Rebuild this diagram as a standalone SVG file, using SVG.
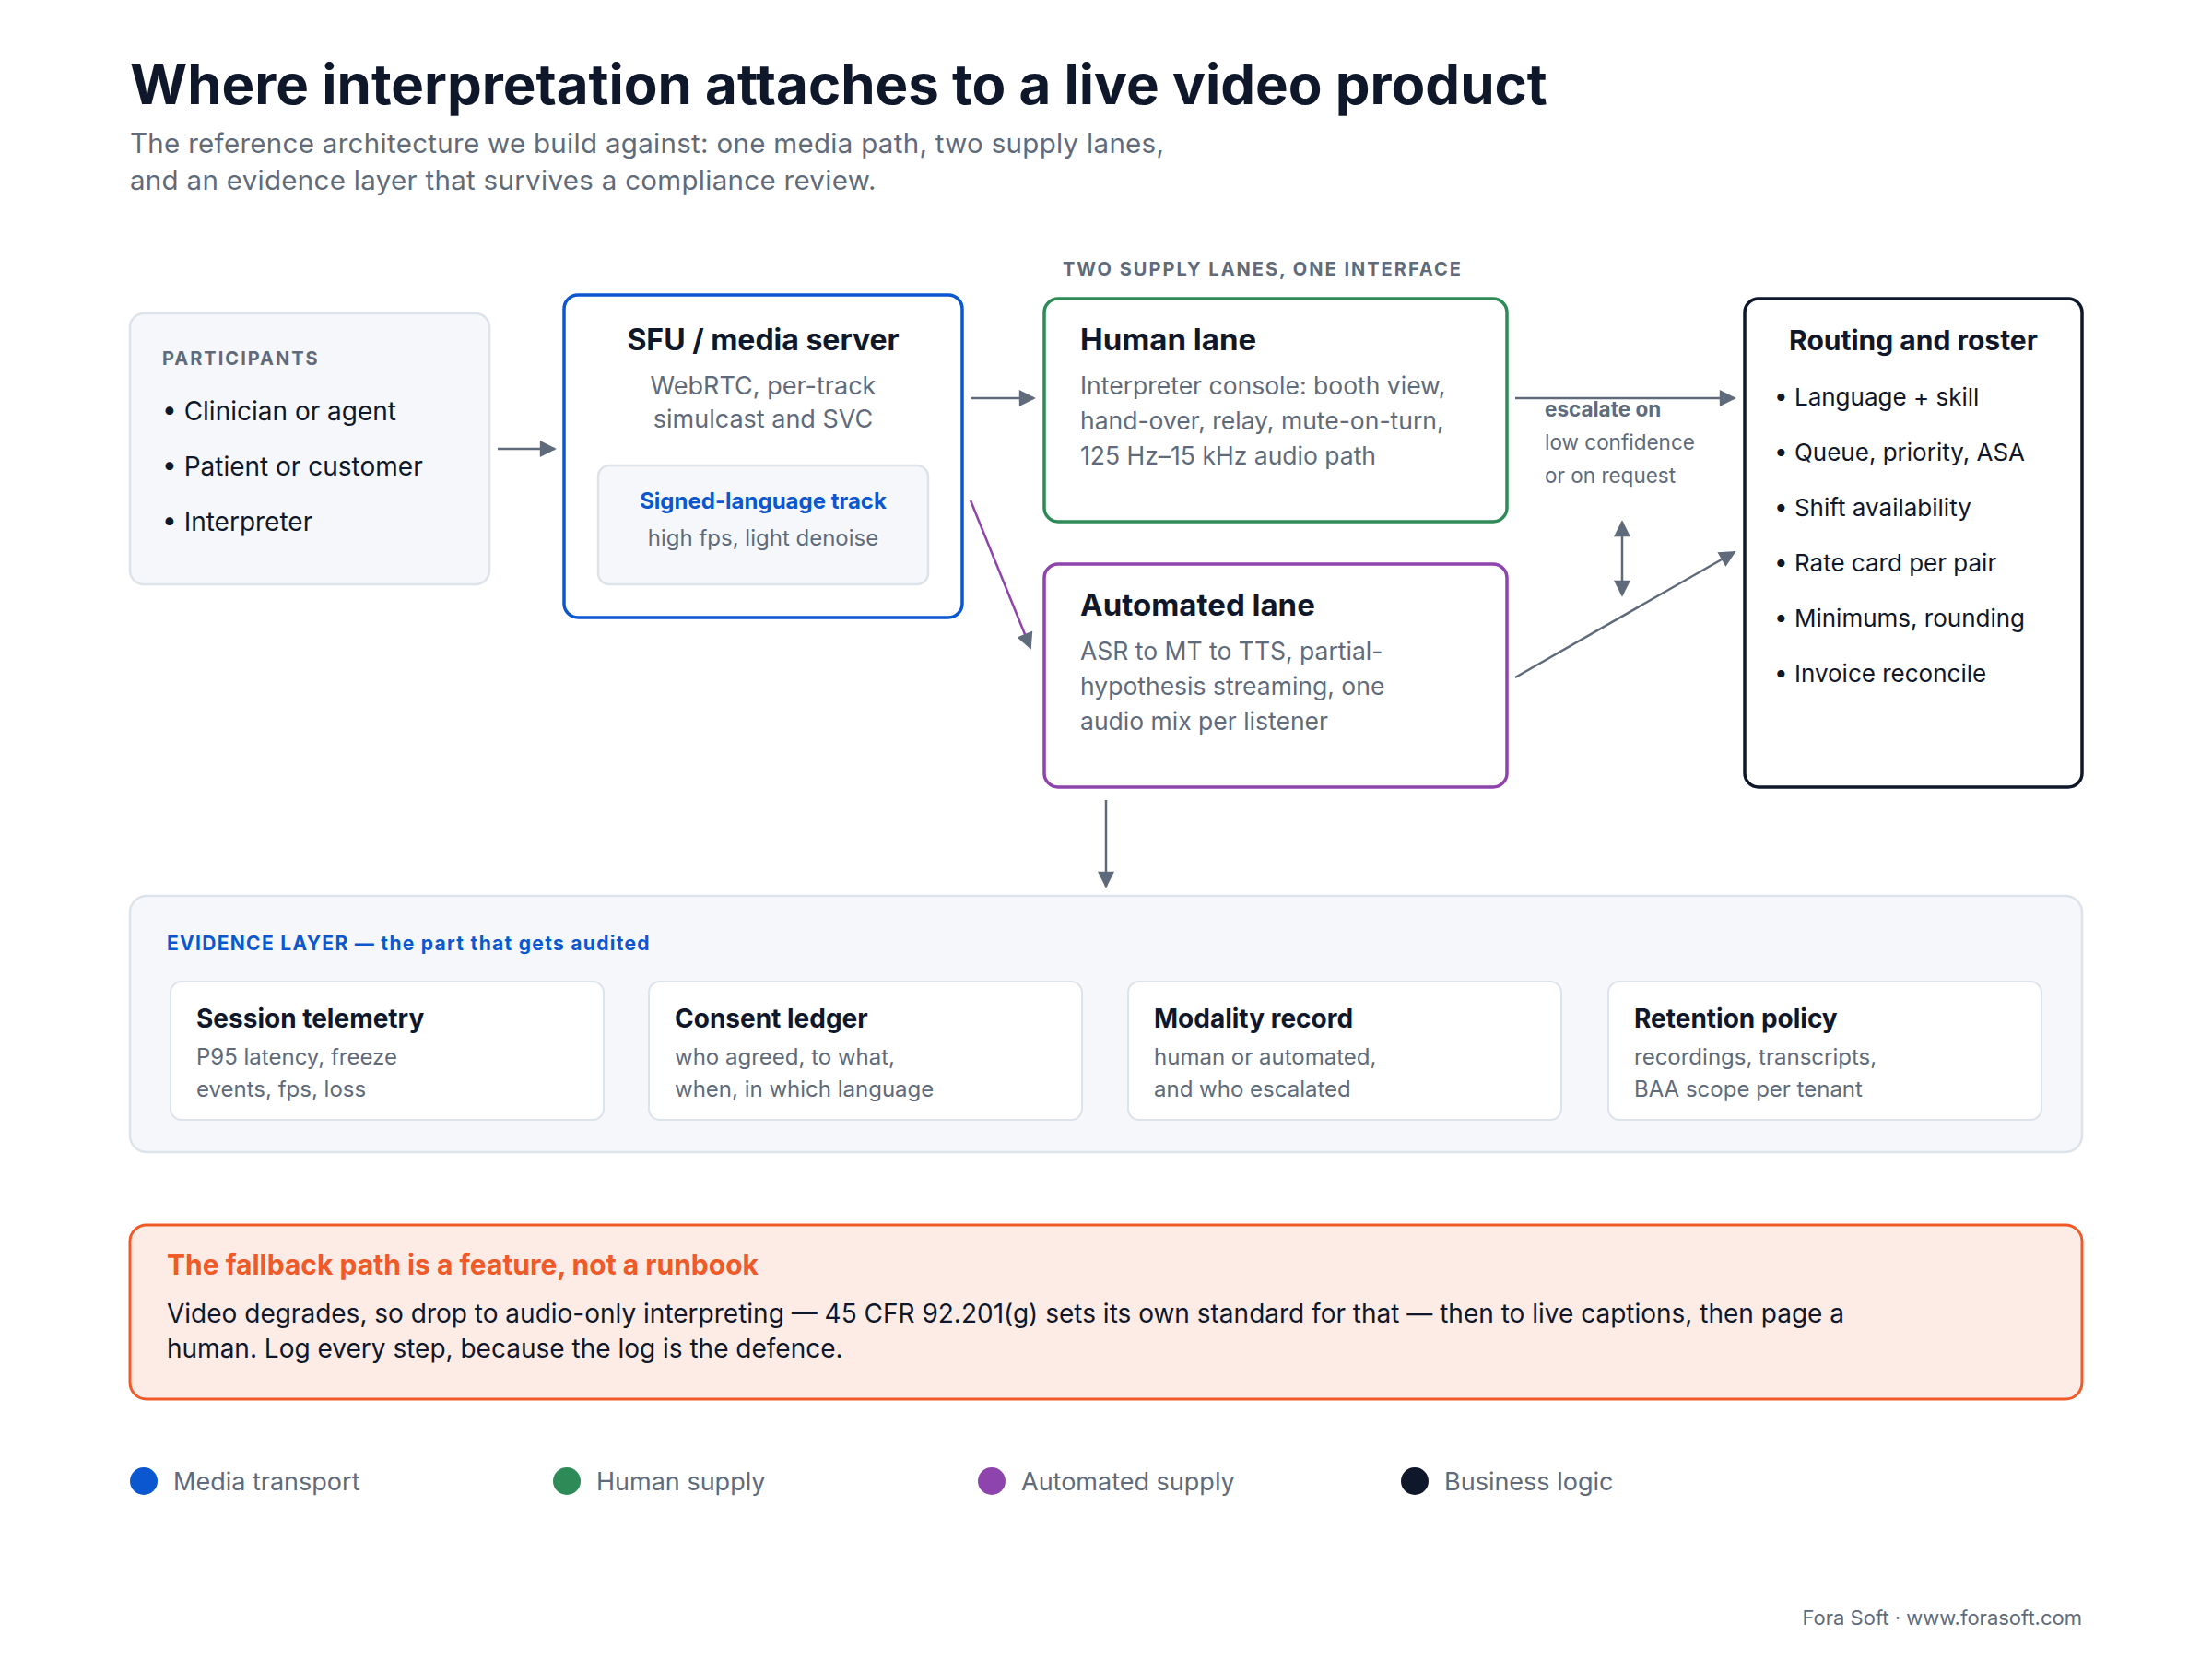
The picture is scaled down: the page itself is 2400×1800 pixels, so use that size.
<svg xmlns="http://www.w3.org/2000/svg" width="2400" height="1800" viewBox="0 0 2400 1800">
<style>
text{font-family:Inter,"Noto Sans","Liberation Sans",sans-serif}
.h{font-weight:700;fill:#0f172a}
.g{fill:#5f6b7a}
.b{fill:#0f172a}
.cap{font-size:20px;font-weight:700;letter-spacing:2px;fill:#5f6b7a}
.soft{fill:#f5f7fa;stroke:#dde3ea;stroke-width:2.5}
.card{fill:#fff;stroke:#dde3ea;stroke-width:2}
.ar{stroke:#5f6b7a;stroke-width:2.5;fill:none}
</style>
<defs>
<marker id="m" viewBox="0 0 10 10" refX="9" refY="5" markerWidth="22" markerHeight="18" markerUnits="userSpaceOnUse" orient="auto-start-reverse"><path d="M0,0L10,5L0,10z" fill="#5f6b7a"/></marker>
</defs>
<rect width="2400" height="1800" fill="#fff"/>
<g id="title">
<text x="141" y="113" font-size="60" class="h">Where interpretation attaches to a live video product</text>
<text x="141" y="166" font-size="29.5" class="g" letter-spacing="0.3">The reference architecture we build against: one media path, two supply lanes,</text>
<text x="141" y="206" font-size="29.5" class="g" letter-spacing="0.3">and an evidence layer that survives a compliance review.</text>
</g>
<g id="participants">
<rect x="141" y="340" width="390" height="294" rx="15" class="soft"/>
<text x="176" y="396" class="cap">PARTICIPANTS</text>
<text x="176" y="456" font-size="28" class="b">• Clinician or agent</text>
<text x="176" y="516" font-size="28" class="b">• Patient or customer</text>
<text x="176" y="576" font-size="28" class="b">• Interpreter</text>
</g>
<g id="sfu">
<rect x="612" y="320" width="432" height="350" rx="15" fill="#fff" stroke="#0b57d0" stroke-width="3.5"/>
<text x="828" y="380" font-size="32" class="h" text-anchor="middle">SFU / media server</text>
<text x="828" y="428" font-size="27" class="g" text-anchor="middle">WebRTC, per-track</text>
<text x="828" y="464" font-size="27" class="g" text-anchor="middle">simulcast and SVC</text>
<rect x="649" y="505" width="358" height="129" rx="12" class="soft"/>
<text x="828" y="552" font-size="24" font-weight="700" fill="#0b57d0" text-anchor="middle">Signed-language track</text>
<text x="828" y="592" font-size="24" class="g" text-anchor="middle">high fps, light denoise</text>
</g>
<text x="1153" y="299" class="cap">TWO SUPPLY LANES, ONE INTERFACE</text>
<g id="human">
<rect x="1133" y="324" width="502" height="242" rx="15" fill="#fff" stroke="#2e8b57" stroke-width="3.5"/>
<text x="1172" y="380" font-size="33" class="h">Human lane</text>
<text x="1172" y="428" font-size="26.5" class="g">Interpreter console: booth view,</text>
<text x="1172" y="466" font-size="26.5" class="g">hand-over, relay, mute-on-turn,</text>
<text x="1172" y="504" font-size="26.5" class="g">125 Hz–15 kHz audio path</text>
</g>
<g id="automated">
<rect x="1133" y="612" width="502" height="242" rx="15" fill="#fff" stroke="#8e44ad" stroke-width="3.5"/>
<text x="1172" y="668" font-size="33" class="h">Automated lane</text>
<text x="1172" y="716" font-size="26.5" class="g">ASR to MT to TTS, partial-</text>
<text x="1172" y="754" font-size="26.5" class="g">hypothesis streaming, one</text>
<text x="1172" y="792" font-size="26.5" class="g">audio mix per listener</text>
</g>
<g id="routing">
<rect x="1893" y="324" width="366" height="530" rx="15" fill="#fff" stroke="#0f172a" stroke-width="3.5"/>
<text x="2076" y="380" font-size="30" class="h" text-anchor="middle">Routing and roster</text>
<text x="1925" y="440" font-size="26" class="b">• Language + skill</text>
<text x="1925" y="500" font-size="26" class="b">• Queue, priority, ASA</text>
<text x="1925" y="560" font-size="26" class="b">• Shift availability</text>
<text x="1925" y="620" font-size="26" class="b">• Rate card per pair</text>
<text x="1925" y="680" font-size="26" class="b">• Minimums, rounding</text>
<text x="1925" y="740" font-size="26" class="b">• Invoice reconcile</text>
</g>
<g id="connectors">
<line x1="540" y1="487" x2="602" y2="487" class="ar" marker-end="url(#m)"/>
<line x1="1053" y1="432" x2="1122" y2="432" class="ar" marker-end="url(#m)"/>
<line x1="1053" y1="543" x2="1118" y2="703" stroke="#8e44ad" stroke-width="2.5" marker-end="url(#m)"/>
<line x1="1644" y1="432" x2="1882" y2="432" class="ar" marker-end="url(#m)"/>
<line x1="1760" y1="566" x2="1760" y2="646" class="ar" marker-start="url(#m)" marker-end="url(#m)"/>
<line x1="1644" y1="735" x2="1882" y2="599" class="ar" marker-end="url(#m)"/>
<line x1="1200" y1="868" x2="1200" y2="962" class="ar" marker-end="url(#m)"/>
<text x="1676" y="452" font-size="22.5" font-weight="700" fill="#5f6b7a">escalate on</text>
<text x="1676" y="488" font-size="22.5" class="g">low confidence</text>
<text x="1676" y="524" font-size="22.5" class="g">or on request</text>
</g>
<g id="evidence">
<rect x="141" y="972" width="2118" height="278" rx="18" class="soft"/>
<text x="181" y="1031" font-size="21" font-weight="700" fill="#0b57d0" letter-spacing="1.3">EVIDENCE LAYER — the part that gets audited</text>
<rect x="185" y="1065" width="470" height="150" rx="12" class="card"/>
<text x="213" y="1115" font-size="28" class="h">Session telemetry</text>
<text x="213" y="1155" font-size="24" class="g">P95 latency, freeze</text>
<text x="213" y="1190" font-size="24" class="g">events, fps, loss</text>
<rect x="704" y="1065" width="470" height="150" rx="12" class="card"/>
<text x="732" y="1115" font-size="28" class="h">Consent ledger</text>
<text x="732" y="1155" font-size="24" class="g">who agreed, to what,</text>
<text x="732" y="1190" font-size="24" class="g">when, in which language</text>
<rect x="1224" y="1065" width="470" height="150" rx="12" class="card"/>
<text x="1252" y="1115" font-size="28" class="h">Modality record</text>
<text x="1252" y="1155" font-size="24" class="g">human or automated,</text>
<text x="1252" y="1190" font-size="24" class="g">and who escalated</text>
<rect x="1745" y="1065" width="470" height="150" rx="12" class="card"/>
<text x="1773" y="1115" font-size="28" class="h">Retention policy</text>
<text x="1773" y="1155" font-size="24" class="g">recordings, transcripts,</text>
<text x="1773" y="1190" font-size="24" class="g">BAA scope per tenant</text>
</g>
<g id="fallback">
<rect x="141" y="1329" width="2118" height="189" rx="18" fill="#fdece6" stroke="#f05a28" stroke-width="3"/>
<text x="181" y="1383" font-size="30" font-weight="700" fill="#f05a28">The fallback path is a feature, not a runbook</text>
<text x="181" y="1435" font-size="28" class="b">Video degrades, so drop to audio-only interpreting — 45 CFR 92.201(g) sets its own standard for that — then to live captions, then page a</text>
<text x="181" y="1473" font-size="28" class="b">human. Log every step, because the log is the defence.</text>
</g>
<g id="legend">
<circle cx="156" cy="1607" r="15" fill="#0b57d0"/><text x="188" y="1617" font-size="27" class="g">Media transport</text>
<circle cx="615" cy="1607" r="15" fill="#2e8b57"/><text x="647" y="1617" font-size="27" class="g">Human supply</text>
<circle cx="1076" cy="1607" r="15" fill="#8e44ad"/><text x="1108" y="1617" font-size="27" class="g">Automated supply</text>
<circle cx="1535" cy="1607" r="15" fill="#0f172a"/><text x="1567" y="1617" font-size="27" class="g">Business logic</text>
</g>
<text x="2259" y="1763" font-size="22" class="g" text-anchor="end">Fora Soft · www.forasoft.com</text>
</svg>
